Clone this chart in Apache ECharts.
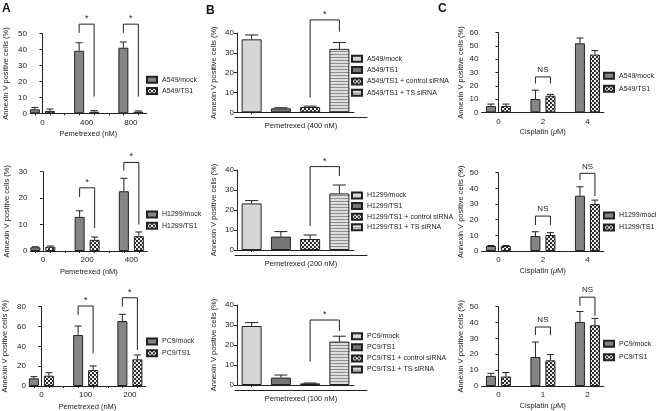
<!DOCTYPE html>
<html><head><meta charset="utf-8">
<script src="https://cdn.jsdelivr.net/npm/echarts@6/dist/echarts.min.js"></script>
<style>html,body{margin:0;padding:0;background:#fff}#c{width:656px;height:411px}</style>
</head><body><div id="c"></div>
<script>
// ================= DATA =================
// Panel A: Pemetrexed, mock vs TS1
const A1_doses = ['0', '400', '800'];
const A1_mock = [2.5, 39.3, 41.2];
const A1_mockErr = [1.2, 5.0, 3.6];
const A1_ts1 = [1.5, 1.0, 1.0];
const A1_ts1Err = [1.2, 0.7, 0.5];
const A1_sig = [[1, 50.5, 10.5, 56, '*'], [2, 50.5, 10.5, 56, '*']];

const A2_doses = ['0', '200', '400'];
const A2_mock = [1.4, 12.9, 22.6];
const A2_mockErr = [0.2, 2.3, 4.9];
const A2_ts1 = [1.6, 4.2, 5.6];
const A2_ts1Err = [0.3, 1.1, 1.6];
const A2_sig = [[1, 20.4, 8.7, 23.9, '*'], [2, 30.4, 10, 33.5, '*']];

const A3_doses = ['0', '100', '200'];
const A3_mock = [7.7, 51.4, 65.5];
const A3_mockErr = [1.7, 9.1, 6.8];
const A3_ts1 = [10.4, 16.1, 26.9];
const A3_ts1Err = [3.0, 4.1, 4.4];
const A3_sig = [[1, 71.6, 33, 80.7, '*'], [2, 80, 36.3, 89, '*']];

// Panel B: Pemetrexed single dose, four groups
const B1_groups = ['A549/mock', 'A549/TS1', 'A549/TS1 + control siRNA', 'A549/TS1 + TS siRNA'];
const B1_vals = [36.8, 2.0, 2.7, 32.0];
const B1_err = [2.2, 0.3, 0.4, 3.2];
const B1_sig = [[2, 3, 7.4, 40.7, 46.6, '*']];

const B2_groups = ['H1299/mock', 'H1299/TS1', 'H1299/TS1 + control siRNA', 'H1299/TS1 + TS siRNA'];
const B2_vals = [23.3, 6.7, 5.5, 28.3];
const B2_err = [1.4, 2.5, 2.0, 4.2];
const B2_sig = [[2, 3, 12, 37, 41.7, '*']];

const B3_groups = ['PC9/mock', 'PC9/TS1', 'PC9/TS1 + control siRNA', 'PC9/TS1 + TS siRNA'];
const B3_vals = [29.5, 3.7, 0.8, 21.7];
const B3_err = [1.7, 1.3, 0.2, 2.7];
const B3_sig = [[2, 3, 11.7, 27, 32.5, '*']];

// Panel C: Cisplatin, mock vs TS1
const C1_doses = ['0', '2', '4'];
const C1_mock = [4.7, 10.0, 52.0];
const C1_mockErr = [1.5, 6.7, 4.0];
const C1_ts1 = [4.7, 12.5, 43.5];
const C1_ts1Err = [1.5, 1.0, 3.0];
const C1_sig = [[1, 21.7, 21.7, 26.7, 'NS']];

const C2_doses = ['0', '2', '4'];
const C2_mock = [3.2, 9.6, 35.3];
const C2_mockErr = [0.3, 2.7, 5.7];
const C2_ts1 = [3.2, 10.2, 30.0];
const C2_ts1Err = [0.3, 1.5, 2.5];
const C2_sig = [[1, 16.6, 16.6, 22.3, 'NS'], [2, 45.3, 35.1, 49.6, 'NS']];

const C3_doses = ['0', '1', '2'];
const C3_mock = [6.4, 18.3, 40.4];
const C3_mockErr = [1.6, 9.4, 6.6];
const C3_ts1 = [6.0, 16.2, 38.3];
const C3_ts1Err = [2.5, 3.6, 4.3];
const C3_sig = [[1, 32.1, 32.1, 37.2, 'NS'], [2, 50.6, 44.3, 56, 'NS']];

const Y_NAME = 'Annexin V positive cells (%)';

// ================= STYLE / LAYOUT =================
const FONT = '"Liberation Sans", Arial, Helvetica, sans-serif';
const INK = '#222';

function pattern(w, h, draw) {
  const c = document.createElement('canvas');
  c.width = w; c.height = h;
  draw(c.getContext('2d'));
  return { image: c, repeat: 'repeat' };
}
const CHECK = pattern(4, 4, g => {
  g.fillStyle = '#ececec'; g.fillRect(0, 0, 4, 4);
  g.fillStyle = '#2e2e2e'; g.fillRect(0, 0, 2, 2); g.fillRect(2, 2, 2, 2);
});
const STRIPE = pattern(4, 3, g => {
  g.fillStyle = '#dedede'; g.fillRect(0, 0, 4, 3);
  g.fillStyle = '#8e8e8e'; g.fillRect(0, 0, 4, 1);
});
const MOCK_GRAY = '#858585';

const grids = [], xAxes = [], yAxes = [], series = [], legends = [];
const titles = [
  { text: 'A', left: 2, top: 3 },
  { text: 'B', left: 206, top: 5 },
  { text: 'C', left: 438, top: 3 }
].map(t => Object.assign(t, { padding: 0, textStyle: { fontSize: 12, fontWeight: 'bold', color: '#111', fontFamily: FONT } }));

const line = (x1, y1, x2, y2) => ({ type: 'line', shape: { x1, y1, x2, y2 }, style: { stroke: INK, lineWidth: 1 } });

function yAxisCfg(gi, max, interval, nameGap) {
  return {
    gridIndex: gi, type: 'value', min: 0, max, interval,
    axisLine: { show: true, lineStyle: { color: INK, width: 1 } },
    axisTick: { show: true, length: 3, lineStyle: { color: INK } },
    axisLabel: { fontSize: 8, margin: 3, color: INK, fontFamily: FONT },
    splitLine: { show: false },
    name: Y_NAME, nameLocation: 'middle', nameRotate: 90, nameGap,
    nameTextStyle: { fontSize: 7.5, color: INK, fontFamily: FONT }
  };
}

function errRender(off, halfCap) {
  return function (params, api) {
    const x = api.value(0), v = api.value(1), e = api.value(2), s = api.value(3);
    const p0 = api.coord([x, v]), p1 = api.coord([x, v + e]);
    const cx = p0[0] + s * off;
    return { type: 'group', children: [line(cx, p0[1], cx, p1[1]), line(cx - halfCap, p1[1], cx + halfCap, p1[1])] };
  };
}

// Pair panels (A and C)
function pairPanel(c) {
  const gi = grids.length;
  const L = c.lay;
  grids.push({ left: L.left, top: L.top, width: L.width, height: L.height, outerBoundsMode: 'none' });
  const pxPerUnit = L.width / (L.max - L.min);
  const off = 7.5 / pxPerUnit;
  const n = c.cats.length;
  const labelVals = c.cats.map((_, i) => i);
  const tickVals = [];
  c.cats.forEach((_, i) => { tickVals.push(i - off, i + off); if (i < n - 1) tickVals.push(i + 0.5); });
  xAxes.push({
    gridIndex: gi, type: 'value', min: L.min, max: L.max,
    axisLine: { show: true, onZero: false, lineStyle: { color: INK, width: 1 } },
    axisTick: { show: !!c.ticks, customValues: tickVals, length: 2, lineStyle: { color: INK } },
    axisLabel: { customValues: labelVals, formatter: v => c.cats[Math.round(v)], fontSize: 8, margin: 5, color: INK, fontFamily: FONT },
    splitLine: { show: false },
    name: c.xName, nameLocation: 'middle', nameGap: L.nameGap,
    nameTextStyle: { fontSize: 7.5, color: INK, fontFamily: FONT, rich: { it: { fontStyle: 'italic', fontSize: 7.5, fontFamily: FONT, color: INK } } }
  });
  yAxes.push(yAxisCfg(gi, c.yMax, c.yInt, L.yNameGap));
  const common = { type: 'bar', xAxisIndex: gi, yAxisIndex: gi, barWidth: 10, barGap: '50%', silent: true };
  series.push(Object.assign({}, common, {
    name: c.names[0], data: c.mock.map((v, i) => [i, v]),
    itemStyle: { color: MOCK_GRAY, borderColor: INK, borderWidth: 1 }
  }));
  series.push(Object.assign({}, common, {
    name: c.names[1], data: c.ts1.map((v, i) => [i, v]),
    itemStyle: { color: CHECK, borderColor: INK, borderWidth: 1 }
  }));
  series.push({
    type: 'custom', name: 'err' + gi, xAxisIndex: gi, yAxisIndex: gi, silent: true, z: 3,
    encode: { x: 0, y: 1 },
    data: c.mock.map((v, i) => [i, v, c.mockErr[i], -1]).concat(c.ts1.map((v, i) => [i, v, c.ts1Err[i], 1])),
    renderItem: errRender(7.5, 3.5)
  });
  const sig = c.sig;
  series.push({
    type: 'custom', name: 'sig' + gi, xAxisIndex: gi, yAxisIndex: gi, silent: true, z: 3, clip: false,
    encode: { x: 0, y: 3 },
    data: sig.map(s => [s[0], s[1], s[2], s[3]]),
    renderItem: function (params, api) {
      const s = sig[params.dataIndex];
      const i = api.value(0);
      const pl = api.coord([i, api.value(1)]), pr = api.coord([i, api.value(2)]), pt = api.coord([i, api.value(3)]);
      const xl = pt[0] - 7.5, xr = pt[0] + 7.5;
      const isStar = s[4] === '*';
      return { type: 'group', children: [
        { type: 'polyline', shape: { points: [[xl, pl[1]], [xl, pt[1]], [xr, pt[1]], [xr, pr[1]]] }, style: { stroke: INK, lineWidth: 1, fill: null } },
        { type: 'text', x: pt[0], y: pt[1] - (isStar ? 1 : 3), style: { text: s[4], align: 'center', verticalAlign: 'bottom', fontSize: isStar ? 9 : 8, fill: INK, fontFamily: FONT } }
      ] };
    }
  });
  legends.push({
    orient: 'vertical', left: c.leg.left, top: c.leg.top, itemGap: c.leg.gap, padding: 0,
    itemWidth: 10, itemHeight: 6, icon: 'rect', selectedMode: false,
    data: c.names, textStyle: { fontSize: 7, color: INK, fontFamily: FONT }
  });
}

// Four-group panels (B)
function quadPanel(c) {
  const gi = grids.length;
  const L = c.lay;
  grids.push({ left: L.left, top: L.top, width: L.width, height: L.height, outerBoundsMode: 'none' });
  const keys = c.groups.map(g => 'B\u00b7' + g);
  xAxes.push({
    gridIndex: gi, type: 'category', data: keys, boundaryGap: true,
    axisLine: { show: true, lineStyle: { color: INK, width: 1 } },
    axisTick: { show: true, alignWithLabel: true, length: 2, lineStyle: { color: INK } },
    axisLabel: { show: false }, splitLine: { show: false }
  });
  yAxes.push(yAxisCfg(gi, 40, 10, L.yNameGap));
  const fills = [
    { color: '#d6d6d6', borderColor: INK, borderWidth: 1 },
    { color: '#767676', borderColor: INK, borderWidth: 1 },
    { color: CHECK, borderColor: INK, borderWidth: 1 },
    { color: STRIPE, borderColor: INK, borderWidth: 1 }
  ];
  keys.forEach((k, j) => {
    series.push({
      type: 'bar', name: k, xAxisIndex: gi, yAxisIndex: gi, barWidth: 20, barGap: '-100%', silent: true,
      data: c.vals.map((v, i) => (i === j ? v : '-')), itemStyle: fills[j]
    });
  });
  series.push({
    type: 'custom', name: 'err' + gi, xAxisIndex: gi, yAxisIndex: gi, silent: true, z: 3,
    encode: { x: 0, y: 1 },
    data: c.vals.map((v, i) => [i, v, c.err[i], 0]),
    renderItem: errRender(0, 6.5)
  });
  const sig = c.sig;
  series.push({
    type: 'custom', name: 'sig' + gi, xAxisIndex: gi, yAxisIndex: gi, silent: true, z: 3, clip: false,
    encode: { x: 0, y: 4 },
    data: sig.map(s => [s[0], s[1], s[2], s[3], s[4]]),
    renderItem: function (params, api) {
      const s = sig[params.dataIndex];
      const pl = api.coord([api.value(0), api.value(2)]);
      const pr = api.coord([api.value(1), api.value(3)]);
      const tl = api.coord([api.value(0), api.value(4)]);
      const tr = api.coord([api.value(1), api.value(4)]);
      return { type: 'group', children: [
        { type: 'polyline', shape: { points: [[pl[0], pl[1]], [tl[0], tl[1]], [tr[0], tr[1]], [pr[0], pr[1]]] }, style: { stroke: INK, lineWidth: 1, fill: null } },
        { type: 'text', x: (tl[0] + tr[0]) / 2, y: tl[1] - 1, style: { text: s[5], align: 'center', verticalAlign: 'bottom', fontSize: 9, fill: INK, fontFamily: FONT } }
      ] };
    }
  });
  // underline grid with the treatment label
  const ui = grids.length;
  grids.push({ left: L.left - 2, top: L.top + L.height + 4, width: L.width + 15, height: 1, outerBoundsMode: 'none' });
  xAxes.push({
    gridIndex: ui, type: 'category', data: [''], axisLine: { show: true, lineStyle: { color: INK, width: 1 } },
    axisTick: { show: false }, axisLabel: { show: false },
    name: c.xName, nameLocation: 'middle', nameGap: 5,
    nameTextStyle: { fontSize: 7.5, color: INK, fontFamily: FONT }
  });
  yAxes.push({ gridIndex: ui, type: 'value', show: false });
  legends.push({
    orient: 'vertical', left: c.leg.left, top: c.leg.top, itemGap: c.leg.gap, padding: 0,
    itemWidth: 10, itemHeight: 6, icon: 'rect', selectedMode: false,
    data: keys, formatter: n => n.replace('B\u00b7', ''),
    textStyle: { fontSize: 7, color: INK, fontFamily: FONT }
  });
}

const AX = { min: -0.28, max: 2.36, width: 116.8, nameGap: 16.5, yNameGap: 20 };
const CX = { min: -0.38, max: 2.37, width: 122.4, nameGap: 16, yNameGap: 17 };
const C_NAME = 'Cisplatin ({it|\u03bc}M)';

pairPanel({ lay: Object.assign({}, AX, { left: 30, top: 33.7, height: 79.6 }), yMax: 50, yInt: 10, ticks: true,
  cats: A1_doses, names: ['A549/mock', 'A549/TS1'], mock: A1_mock, mockErr: A1_mockErr, ts1: A1_ts1, ts1Err: A1_ts1Err, sig: A1_sig,
  xName: 'Pemetrexed (nM)', leg: { left: 146, top: 75.8, gap: 3.3 } });
pairPanel({ lay: Object.assign({}, AX, { left: 30.5, top: 171.7, height: 79.3 }), yMax: 30, yInt: 10, ticks: true,
  cats: A2_doses, names: ['H1299/mock', 'H1299/TS1'], mock: A2_mock, mockErr: A2_mockErr, ts1: A2_ts1, ts1Err: A2_ts1Err, sig: A2_sig,
  xName: 'Pemetrexed (nM)', leg: { left: 146, top: 210.5, gap: 3.3 } });
pairPanel({ lay: Object.assign({}, AX, { left: 29, top: 306.7, height: 79.3 }), yMax: 80, yInt: 20, ticks: true,
  cats: A3_doses, names: ['PC9/mock', 'PC9/TS1'], mock: A3_mock, mockErr: A3_mockErr, ts1: A3_ts1, ts1Err: A3_ts1Err, sig: A3_sig,
  xName: 'Pemetrexed (nM)', leg: { left: 146, top: 337.5, gap: 3.7 } });

quadPanel({ lay: { left: 237, top: 33, width: 117, height: 79.3, yNameGap: 19.5 }, groups: B1_groups, vals: B1_vals, err: B1_err, sig: B1_sig,
  xName: 'Pemetrexed (400 nM)', leg: { left: 351, top: 54.8, gap: 3.3 } });
quadPanel({ lay: { left: 237, top: 170, width: 117, height: 80, yNameGap: 19.5 }, groups: B2_groups, vals: B2_vals, err: B2_err, sig: B2_sig,
  xName: 'Pemetrexed (200 nM)', leg: { left: 351, top: 191.5, gap: 2.6 } });
quadPanel({ lay: { left: 237, top: 305, width: 117, height: 80, yNameGap: 19.5 }, groups: B3_groups, vals: B3_vals, err: B3_err, sig: B3_sig,
  xName: 'Pemetrexed (100 nM)', leg: { left: 351, top: 332.2, gap: 3.1 } });

pairPanel({ lay: Object.assign({}, CX, { left: 481.5, top: 32.7, height: 79.6 }), yMax: 60, yInt: 10, ticks: false,
  cats: C1_doses, names: ['A549/mock', 'A549/TS1'], mock: C1_mock, mockErr: C1_mockErr, ts1: C1_ts1, ts1Err: C1_ts1Err, sig: C1_sig,
  xName: C_NAME, leg: { left: 603, top: 71.8, gap: 5 } });
pairPanel({ lay: Object.assign({}, CX, { left: 481.5, top: 172.7, height: 78.3 }), yMax: 50, yInt: 10, ticks: false,
  cats: C2_doses, names: ['H1299/mock', 'H1299/TS1'], mock: C2_mock, mockErr: C2_mockErr, ts1: C2_ts1, ts1Err: C2_ts1Err, sig: C2_sig,
  xName: C_NAME, leg: { left: 603, top: 211.5, gap: 4 } });
pairPanel({ lay: Object.assign({}, CX, { left: 481.5, top: 306.7, height: 79.3 }), yMax: 50, yInt: 10, ticks: false,
  cats: C3_doses, names: ['PC9/mock', 'PC9/TS1'], mock: C3_mock, mockErr: C3_mockErr, ts1: C3_ts1, ts1Err: C3_ts1Err, sig: C3_sig,
  xName: C_NAME, leg: { left: 603, top: 339.8, gap: 5.4 } });

const chart = echarts.init(document.getElementById('c'), null, { renderer: 'canvas', width: 656, height: 411 });
chart.setOption({
  animation: false,
  backgroundColor: '#fff',
  textStyle: { fontFamily: FONT },
  title: titles,
  grid: grids, xAxis: xAxes, yAxis: yAxes, legend: legends, series
});
</script></body></html>
